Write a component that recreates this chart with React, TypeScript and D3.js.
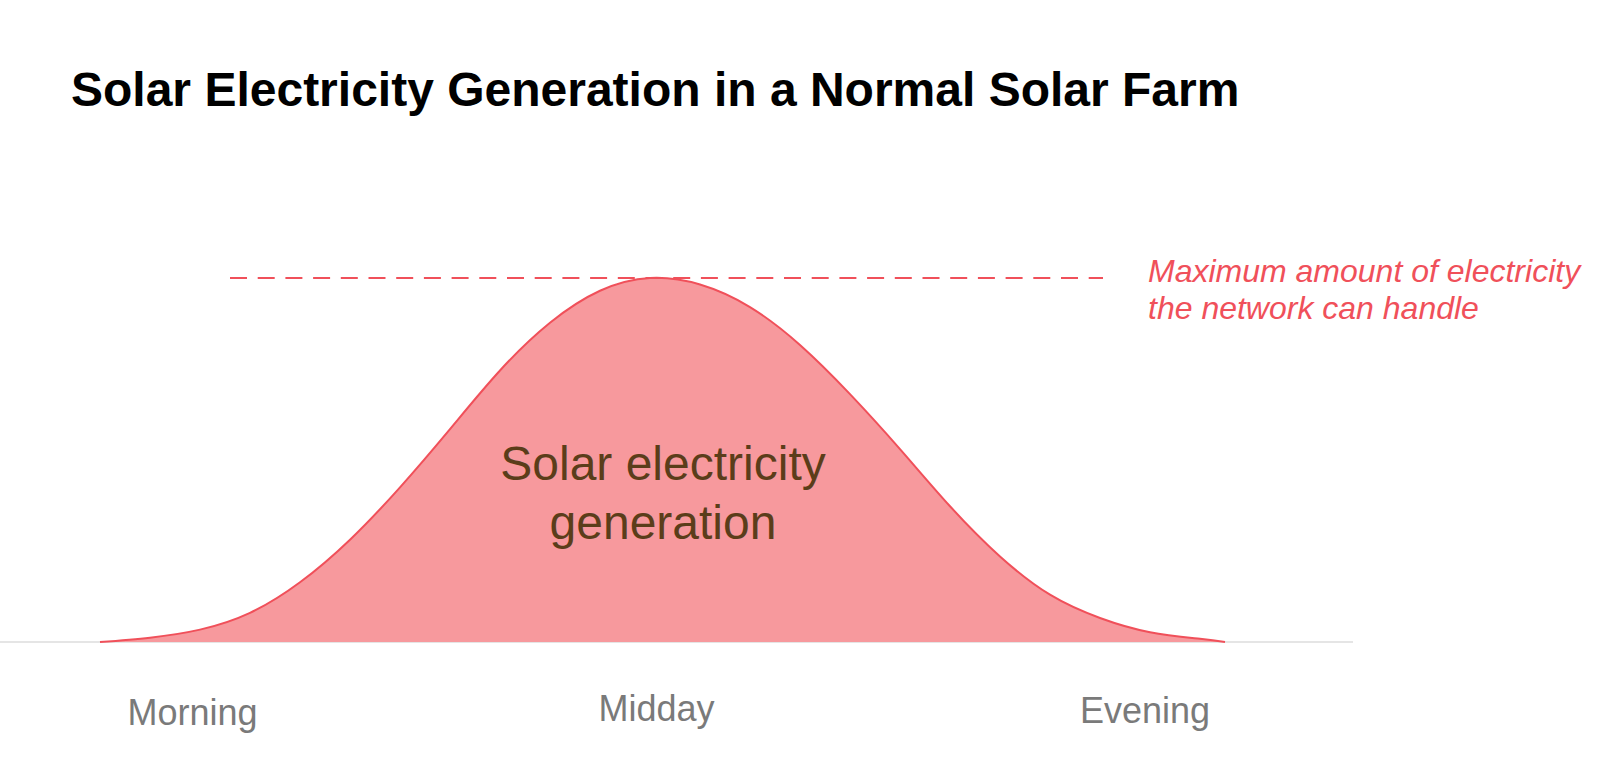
import * as d3 from 'd3';
import React, {useEffect, useRef} from "react";

const WIDTH = 1600;
const HEIGHT = 777;

// hours since sunrise (roughly), and generation as % of network limit
const hours = [0, 1, 2, 3, 4, 5, 6, 7, 8, 9, 10, 11, 12, 13, 14, 15, 16, 17, 18, 19, 20, 21, 22, 22.5];
const generation = [0, 1.2, 3.4, 8.0, 16.4, 28.1, 42.5, 58.5, 74.6, 87.7, 96.5, 100, 98.2, 92.0, 81.6, 68.1, 53.0, 37.3, 23.5, 13.0, 6.6, 2.7, 0.9, 0];
const networkLimit = 100;

const tickLabels = ["Morning", "Midday", "Evening"];
const tickHours = [1.85, 11.13, 20.9];
const tickBaselines = [725, 721, 723];

const title = "Solar Electricity Generation in a Normal Solar Farm";
const areaLabel = ["Solar electricity", "generation"];
const limitLabel = ["Maximum amount of electricity", "the network can handle"];

const RED = "#f0505a";
const FILL = "#f7999d";
const FONT = "'Liberation Sans', Arial, Helvetica, sans-serif";

const App: React.FC = () => {
    const svgRef = useRef<SVGSVGElement>(null);

    useEffect(() => {
        const svg = d3.select(svgRef.current);
        svg.selectAll('*').remove();

        const x = d3.scaleLinear().domain([0, 22.5]).range([100, 1225]);
        const y = d3.scaleLinear().domain([0, 100]).range([642, 278]);

        const data = hours.map((h, i) => ({h, v: generation[i]}));

        // title
        svg.append('text')
            .attr('x', 71)
            .attr('y', 106)
            .attr('font-family', FONT)
            .attr('font-weight', 'bold')
            .attr('font-size', 48)
            .attr('fill', '#000')
            .text(title);

        // baseline
        svg.append('line')
            .attr('x1', 0)
            .attr('x2', 1353)
            .attr('y1', y(0))
            .attr('y2', y(0))
            .attr('stroke', '#dddddd')
            .attr('stroke-width', 1.5);

        const curve = d3.curveNatural;

        const area = d3.area<{h: number, v: number}>()
            .x(d => x(d.h))
            .y0(y(0))
            .y1(d => y(d.v))
            .curve(curve);

        const line = d3.line<{h: number, v: number}>()
            .x(d => x(d.h))
            .y(d => y(d.v))
            .curve(curve);

        svg.append('path')
            .datum(data)
            .attr('d', area)
            .attr('fill', FILL);

        svg.append('path')
            .datum(data)
            .attr('d', line)
            .attr('fill', 'none')
            .attr('stroke', RED)
            .attr('stroke-width', 2);

        // network limit
        svg.append('line')
            .attr('x1', 230)
            .attr('x2', 1103)
            .attr('y1', y(networkLimit))
            .attr('y2', y(networkLimit))
            .attr('stroke', RED)
            .attr('stroke-width', 2)
            .attr('stroke-dasharray', '17 10.7');

        const limitText = svg.append('text')
            .attr('font-family', FONT)
            .attr('font-style', 'italic')
            .attr('font-size', 32)
            .attr('fill', RED);
        limitLabel.forEach((t, i) => {
            limitText.append('tspan')
                .attr('x', 1148)
                .attr('y', 282 + i * 37)
                .text(t);
        });

        const inner = svg.append('text')
            .attr('font-family', FONT)
            .attr('font-size', 48)
            .attr('text-anchor', 'middle')
            .attr('fill', '#5b3d1a');
        areaLabel.forEach((t, i) => {
            inner.append('tspan')
                .attr('x', 663)
                .attr('y', 480 + i * 59)
                .text(t);
        });

        // x labels
        svg.append('g')
            .selectAll('text')
            .data(tickLabels)
            .enter()
            .append('text')
            .attr('x', (d, i) => x(tickHours[i]))
            .attr('y', (d, i) => tickBaselines[i])
            .attr('text-anchor', 'middle')
            .attr('font-family', FONT)
            .attr('font-size', 36)
            .attr('fill', '#7a7a7a')
            .text(d => d);
    }, []);

    return (
        <svg ref={svgRef} width={WIDTH} height={HEIGHT}
             style={{position: 'absolute', left: 0, top: 0, background: '#fff'}}/>
    );
};

export default App;
